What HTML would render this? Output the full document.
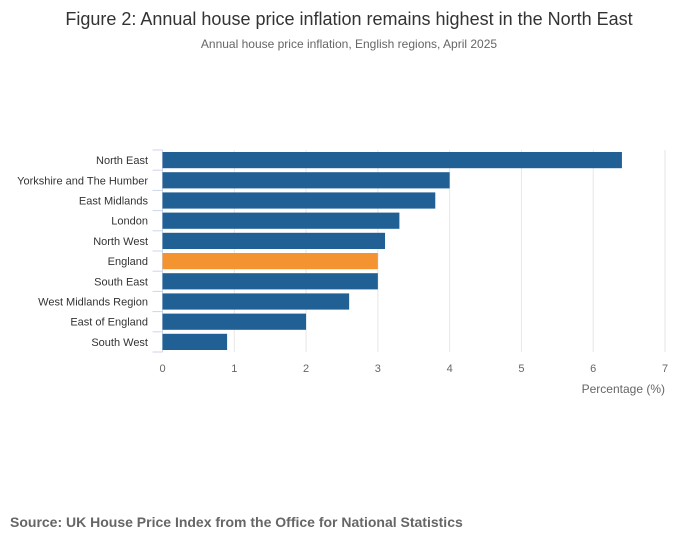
<!DOCTYPE html>
<html><head><meta charset="utf-8"><style>
body{margin:0;background:#fff;font-family:"Liberation Sans",sans-serif;}
svg text{font-family:"Liberation Sans",sans-serif;}
</style></head><body>
<svg width="700" height="549" viewBox="0 0 700 549">
<text x="349" y="25" text-anchor="middle" font-size="18" fill="#333">Figure 2: Annual house price inflation remains highest in the North East</text>
<text x="349" y="48" text-anchor="middle" font-size="12" fill="#666">Annual house price inflation, English regions, April 2025</text>
<g id="grid"></g>
<g id="bars"></g>
<g id="ylab"></g>
<g id="xlab"></g>
<text x="665" y="393" text-anchor="end" font-size="12" fill="#666">Percentage (%)</text>
<text x="10" y="527" font-size="14" font-weight="bold" fill="#666">Source: UK House Price Index from the Office for National Statistics</text>
</svg>
<script>
const categories=["North East","Yorkshire and The Humber","East Midlands","London","North West","England","South East","West Midlands Region","East of England","South West"];
const values=[6.4,4.0,3.8,3.3,3.1,3.0,3.0,2.6,2.0,0.9];
const highlight=["England"];
const xTicks=[0,1,2,3,4,5,6,7];
const NS="http://www.w3.org/2000/svg";
const x0=162.5,x1=665,plotTop=150,plotBottom=352,xmax=7;
const xs=v=>x0+(x1-x0)*v/xmax;
const band=(plotBottom-plotTop)/categories.length;
const ys=i=>plotTop+i*band;
function mk(t,a,p){const e=document.createElementNS(NS,t);for(const k in a)e.setAttribute(k,a[k]);p.appendChild(e);return e;}
const grid=document.getElementById('grid'),bars=document.getElementById('bars'),yl=document.getElementById('ylab'),xl=document.getElementById('xlab');
xTicks.forEach(t=>{
 if(t>0){const l=mk('line',{x1:xs(t),x2:xs(t),y1:plotTop,y2:plotBottom,stroke:'#e6e6e6','stroke-width':1},grid);
 
 }
 const tx=mk('text',{x:xs(t),y:372,'text-anchor':'middle','font-size':11,fill:'#666'},xl);tx.textContent=t;
 
 
});
const ax=mk('line',{x1:x0,x2:x0,y1:plotTop,y2:plotBottom,stroke:'#ccd6eb'},grid);


for(let i=0;i<=categories.length;i++){const tk=mk('line',{x1:x0-10,x2:x0,y1:ys(i),y2:ys(i),stroke:'#ccd6eb'},grid);
 
 }
categories.forEach((c,i)=>{
 const r=mk('rect',{x:x0,y:ys(i)+2,width:xs(values[i])-x0,height:band-4,fill:highlight.includes(c)?'#f39431':'#206095'},bars);
 
 
 const t=mk('text',{x:148,y:ys(i)+band/2+4,'text-anchor':'end','font-size':11,fill:'#333'},yl);t.textContent=c;
 
 
});
</script>
</body></html>
